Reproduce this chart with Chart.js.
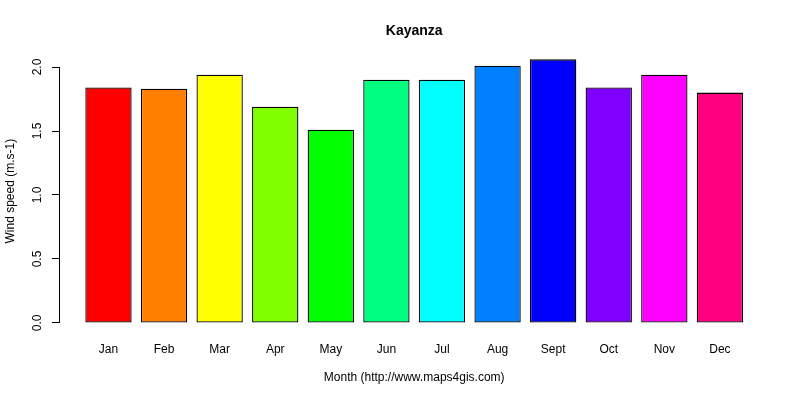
<!DOCTYPE html>
<html>
<head>
<meta charset="utf-8">
<title>Kayanza</title>
<script src="https://cdn.jsdelivr.net/npm/chart.js@4/dist/chart.umd.min.js"></script>
<style>
  html, body { margin: 0; padding: 0; background: #fff; }
  #chart { display: block; }
</style>
</head>
<body>
<canvas id="chart" width="800" height="400"></canvas>
<script>
"use strict";

const months = ["Jan", "Feb", "Mar", "Apr", "May", "Jun", "Jul", "Aug", "Sept", "Oct", "Nov", "Dec"];
const windSpeed = [1.84, 1.83, 1.94, 1.69, 1.51, 1.90, 1.90, 2.01, 2.06, 1.84, 1.94, 1.80];
const barColors = ["#FF0000", "#FF8000", "#FFFF00", "#80FF00", "#00FF00", "#00FF80",
                   "#00FFFF", "#0080FF", "#0000FF", "#8000FF", "#FF00FF", "#FF0080"];
const yTicks = [0, 0.5, 1.0, 1.5, 2.0];

// R barplot layout: bar width 1, space 0.2, axes padded by 4%.
const SPACE = 0.2;
const centers = months.map((_, i) => SPACE + i * (1 + SPACE) + 0.5);
const xLo = SPACE, xHi = months.length * (1 + SPACE);
const xPad = 0.04 * (xHi - xLo);
const yTop = Math.max(...windSpeed);
const yPad = 0.04 * yTop;

const FONT = "'Liberation Sans', Arial, sans-serif";

// R draws the y axis line only between the first and last tick.
const axisLine = {
  id: "axisLine",
  afterDraw(chart) {
    const y = chart.scales.y;
    const ctx = chart.ctx;
    const x = Math.round(y.right) + 0.5;
    ctx.save();
    ctx.strokeStyle = "#000";
    ctx.lineWidth = 1;
    ctx.beginPath();
    ctx.moveTo(x, y.getPixelForValue(yTicks[0]));
    ctx.lineTo(x, y.getPixelForValue(yTicks[yTicks.length - 1]));
    ctx.stroke();
    ctx.restore();
  },
};

new Chart(document.getElementById("chart").getContext("2d"), {
  type: "bar",
  data: {
    datasets: [{
      data: windSpeed.map((v, i) => ({ x: centers[i], y: v })),
      backgroundColor: barColors,
      borderColor: "#000",
      borderWidth: 1.3,
      borderSkipped: false,
      barPercentage: 1,
      categoryPercentage: 1 / (1 + SPACE),
    }],
  },
  options: {
    responsive: false,
    animation: false,
    devicePixelRatio: 1,
    layout: { padding: { left: 0, right: 30.6, top: 0, bottom: 0 } },
    plugins: {
      legend: { display: false },
      tooltip: { enabled: false },
      title: {
        display: true,
        text: "Kayanza",
        fullSize: false,
        color: "#000",
        font: { family: FONT, size: 14, weight: "bold" },
        padding: { top: 22.6, bottom: 9.4 },
      },
    },
    scales: {
      x: {
        type: "linear",
        offset: false,
        min: xLo - xPad,
        max: xHi + xPad,
        grid: { display: false, drawTicks: false },
        border: { display: false },
        afterBuildTicks: (s) => { s.ticks = centers.map((v) => ({ value: v })); },
        afterFit: (s) => { s.height = 66.5; },
        ticks: {
          autoSkip: false,
          maxRotation: 0,
          padding: 9,
          color: "#000",
          font: { family: FONT, size: 12 },
          callback: (v, i) => months[i],
        },
        title: {
          display: true,
          text: "Month (http://www.maps4gis.com)",
          color: "#000",
          font: { family: FONT, size: 12 },
          padding: { top: 0, bottom: 15 },
        },
      },
      y: {
        min: -yPad,
        max: yTop + yPad,
        grid: { drawOnChartArea: false, drawTicks: true, tickLength: 7, color: "#000", lineWidth: 1 },
        border: { display: false },
        afterBuildTicks: (s) => { s.ticks = yTicks.map((v) => ({ value: v })); },
        afterFit: (s) => { s.width = 59; },
        ticks: {
          minRotation: 90,
          maxRotation: 90,
          crossAlign: "center",
          padding: 6,
          color: "#000",
          font: { family: FONT, size: 12 },
          callback: (v) => v.toFixed(1),
        },
        title: {
          display: true,
          text: "Wind speed (m.s-1)",
          color: "#000",
          font: { family: FONT, size: 12 },
          padding: { top: 3, bottom: 0 },
        },
      },
    },
  },
  plugins: [axisLine],
});
</script>
</body>
</html>
